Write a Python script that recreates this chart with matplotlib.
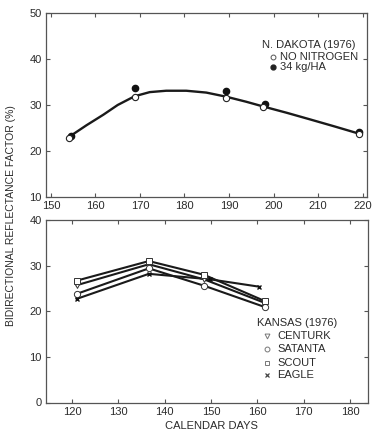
import matplotlib
matplotlib.use("Agg")
import matplotlib.pyplot as plt
from matplotlib.lines import Line2D

# N. Dakota (1976)
nd_days_open = [154.0, 168.8, 189.4, 197.6, 219.1]
nd_no_nitrogen = [22.9, 31.8, 31.6, 29.6, 23.7]
nd_days_filled = [154.6, 168.8, 189.4, 198.0, 219.3]
nd_34kg = [23.2, 33.8, 33.0, 30.3, 24.2]
nd_curve_days = [154.6, 158.0, 161.8, 165.0, 168.8, 172.2, 175.9, 180.4,
                 184.9, 189.4, 193.9, 197.6, 203.0, 208.1, 213.5, 219.1]
nd_curve_vals = [23.4, 25.6, 27.9, 30.0, 31.9, 32.8, 33.1, 33.1,
                 32.7, 31.8, 30.7, 29.7, 28.3, 26.9, 25.4, 23.8]

# Kansas (1976)
ks_days = [121.0, 136.6, 148.5, 161.7]
ks_eagle_days = [121.0, 136.6, 149.8, 160.3]
centurk = [25.7, 30.3, 27.0, 21.8]
satanta = [23.8, 29.4, 25.6, 20.9]
scout = [26.7, 31.0, 28.0, 22.2]
eagle = [22.7, 28.2, 27.0, 25.4]

FONT = ["Liberation Sans", "DejaVu Sans"]
TXT = "#2b2b2b"
FS = 8
plt.rcParams["font.family"] = FONT
plt.rcParams["font.size"] = FS
plt.rcParams["text.color"] = TXT

W, H = 377, 434
fig = plt.figure(figsize=(W / 100, H / 100), dpi=100)


def box(l, t, r, b):
    return [l / W, 1 - b / H, (r - l) / W, (b - t) / H]


def fx(px):
    return px / W


def fy(py):
    return 1 - py / H


def style(ax):
    for s in ax.spines.values():
        s.set_color("#555555")
        s.set_linewidth(0.9)
    ax.tick_params(direction="in", length=3, width=0.8, top=True, right=True,
                   labelsize=FS, pad=3, colors="#555555", labelcolor=TXT)


def key(x_title, y_title, x_mark, x_text, rows, title):
    # hand placed key: title, then indented marker + label rows
    fig.text(fx(x_title), fy(y_title), title, ha="left", va="center")
    for y, label, kw in rows:
        fig.add_artist(Line2D([fx(x_mark)], [fy(y)], ls="none",
                              transform=fig.transFigure, **kw))
        fig.text(fx(x_text), fy(y), label, ha="left", va="center")


# top panel
ax1 = fig.add_axes(box(46, 13, 367, 197))
ax1.plot(nd_curve_days, nd_curve_vals, color="#1a1a1a", lw=1.7, zorder=2)
ax1.plot(nd_days_filled, nd_34kg, "o", ms=4.5, mfc="#111111", mec="#111111",
         ls="none", zorder=3)
ax1.plot(nd_days_open, nd_no_nitrogen, "o", ms=4.5, mfc="white", mec="#222222",
         mew=0.8, ls="none", zorder=4)
ax1.set_xlim(148.9, 221)
ax1.set_ylim(10, 50)
ax1.set_xticks(range(150, 221, 10))
ax1.set_yticks(range(10, 51, 10))
style(ax1)
key(262, 45, 273, 280.5, [
    (56.7, "NO NITROGEN", dict(marker="o", ms=3.5, mfc="white", mec="#555555", mew=0.7)),
    (67.3, "34 kg/HA", dict(marker="o", ms=3.5, mfc="#222222", mec="#222222")),
], "N. DAKOTA (1976)")

# bottom panel
ax2 = fig.add_axes(box(46, 220, 368, 402.5))
series = [
    ("CENTURK", ks_days, centurk, "v"),
    ("SATANTA", ks_days, satanta, "o"),
    ("SCOUT", ks_days, scout, "s"),
    ("EAGLE", ks_eagle_days, eagle, "x"),
]
for name, d, v, m in series:
    ax2.plot(d, v, color="#1a1a1a", lw=1.5, zorder=2)
for name, d, v, m in series:
    if m == "x":
        ax2.plot(d, v, m, ms=3.5, mec="#111111", mew=1.0, ls="none", zorder=4)
    else:
        ax2.plot(d, v, m, ms=4.5, mfc="white", mec="#333333", mew=0.7,
                 ls="none", zorder=4)
ax2.set_xlim(114.4, 183.9)
ax2.set_ylim(0, 40)
ax2.set_xticks(range(120, 181, 10))
ax2.set_yticks(range(0, 41, 10))
style(ax2)
key(257, 322.7, 267, 277, [
    (336.0, "CENTURK", dict(marker="v", ms=3.5, mfc="white", mec="#777777", mew=0.7)),
    (349.3, "SATANTA", dict(marker="o", ms=3.5, mfc="white", mec="#777777", mew=0.7)),
    (362.7, "SCOUT", dict(marker="s", ms=3.2, mfc="white", mec="#777777", mew=0.7)),
    (375.3, "EAGLE", dict(marker="x", ms=2.8, mec="#444444", mew=0.9)),
], "KANSAS (1976)")

fig.text(fx(211), fy(426), "CALENDAR DAYS", ha="center", va="center")
fig.text(fx(11), fy(216), "BIDIRECTIONAL REFLECTANCE FACTOR (%)",
         ha="center", va="center", rotation=90, fontsize=7.5)

fig.savefig("out.png", dpi=100, facecolor="white")
